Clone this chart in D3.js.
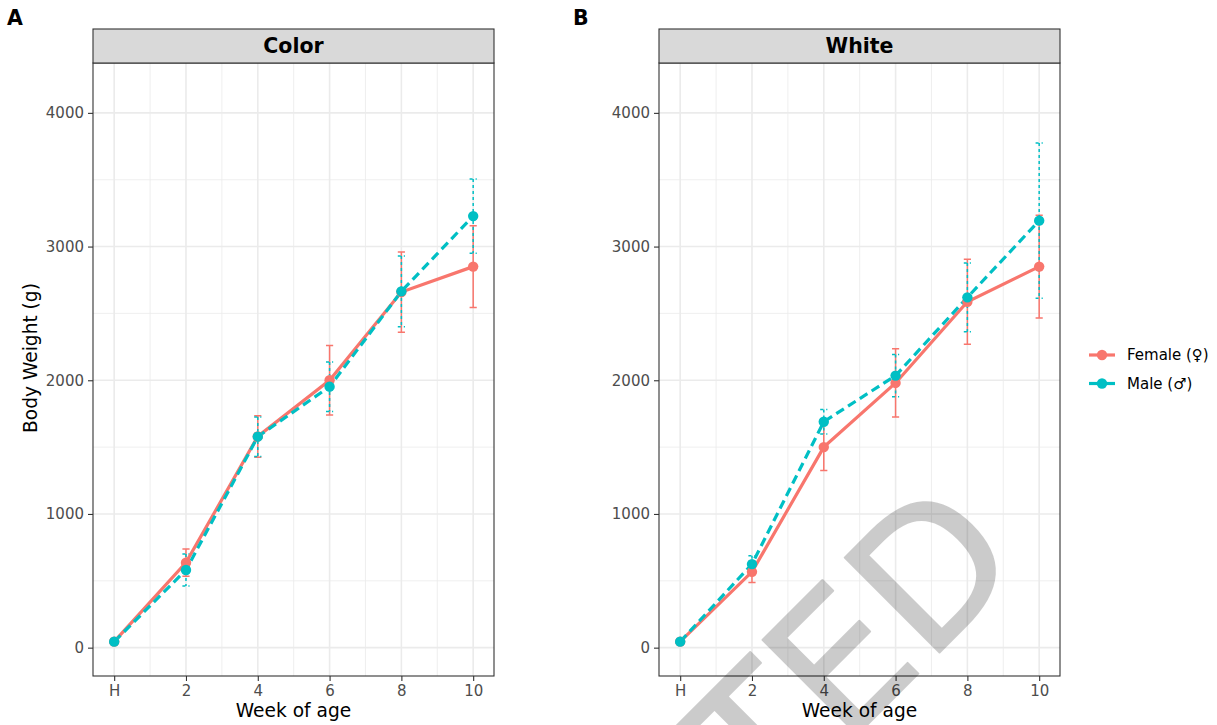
<!DOCTYPE html>
<html>

<head>
	<meta charset="utf-8">
	<title>Body Weight</title>
	<style>
		body { margin: 0; background: #fff; }
		text { font-family: "DejaVu Sans", sans-serif; }
	</style>
</head>

<body>
	<svg class="svg" width="1217" height="725"></svg>

	<script src="https://d3js.org/d3.v7.min.js"></script>
	<script>
		//data
		var weeks = [0, 2, 4, 6, 8, 10];
		var weekLabels = ["H", "2", "4", "6", "8", "10"];
		var yTicks = [0, 1000, 2000, 3000, 4000];

		var colorFemale = [45, 636, 1580, 2000, 2660, 2850];
		var colorFemaleSD = [10, 102, 155, 260, 300, 305];
		var colorMale = [45, 581, 1578, 1952, 2665, 3228];
		var colorMaleSD = [10, 120, 148, 185, 265, 278];

		var whiteFemale = [45, 567, 1500, 1980, 2587, 2850];
		var whiteFemaleSD = [10, 80, 175, 255, 318, 385];
		var whiteMale = [45, 625, 1690, 2035, 2620, 3194];
		var whiteMaleSD = [10, 62, 92, 158, 258, 580];

		var sexes = ["Female (\u2640)", "Male (\u2642)"];
		var colors = ["#F8766D", "#00BFC4"];

		var svg = d3.select("svg");

		var panels = [{
			tag: "A", title: "Color", left: 93,
			series: [colorFemale, colorMale], sd: [colorFemaleSD, colorMaleSD]
		}, {
			tag: "B", title: "White", left: 659,
			series: [whiteFemale, whiteMale], sd: [whiteFemaleSD, whiteMaleSD]
		}];

		var panelW = 401;
		var plotTop = 63, plotBottom = 676, stripTop = 29;

		var y = d3.scaleLinear()
			.domain([-212, 4373])
			.range([plotBottom, plotTop]);

		panels.forEach(function(p) {
			var x = d3.scaleLinear()
				.domain([-0.59, 10.58])
				.range([p.left, p.left + panelW]);

			var g = svg.append("g");

			//minor grid
			g.selectAll(".minorx")
				.data([1, 3, 5, 7, 9])
				.enter().append("line")
				.attr("x1", function(d) { return x(d); })
				.attr("x2", function(d) { return x(d); })
				.attr("y1", plotTop).attr("y2", plotBottom)
				.attr("stroke", "#EBEBEB").attr("stroke-width", 0.8);
			g.selectAll(".minory")
				.data([500, 1500, 2500, 3500])
				.enter().append("line")
				.attr("y1", function(d) { return y(d); })
				.attr("y2", function(d) { return y(d); })
				.attr("x1", p.left).attr("x2", p.left + panelW)
				.attr("stroke", "#EBEBEB").attr("stroke-width", 0.8);

			//major grid
			g.selectAll(".majorx")
				.data(weeks)
				.enter().append("line")
				.attr("x1", function(d) { return x(d); })
				.attr("x2", function(d) { return x(d); })
				.attr("y1", plotTop).attr("y2", plotBottom)
				.attr("stroke", "#EBEBEB").attr("stroke-width", 1.6);
			g.selectAll(".majory")
				.data(yTicks)
				.enter().append("line")
				.attr("y1", function(d) { return y(d); })
				.attr("y2", function(d) { return y(d); })
				.attr("x1", p.left).attr("x2", p.left + panelW)
				.attr("stroke", "#EBEBEB").attr("stroke-width", 1.6);

			//axes
			var xAxis = g.append("g")
				.attr("transform", "translate(0," + plotBottom + ")")
				.call(d3.axisBottom(x).tickValues(weeks)
					.tickFormat(function(d, i) { return weekLabels[i]; })
					.tickSize(5).tickPadding(4));
			var yAxis = g.append("g")
				.attr("transform", "translate(" + p.left + ",0)")
				.call(d3.axisLeft(y).tickValues(yTicks).tickFormat(d3.format("d"))
					.tickSize(5).tickPadding(4));
			[xAxis, yAxis].forEach(function(a) {
				a.select(".domain").remove();
				a.selectAll(".tick line").attr("stroke", "#333333").attr("stroke-width", 1.1);
				a.selectAll(".tick text")
					.attr("fill", "#4D4D4D")
					.style("font-size", "15px")
					.style("font-family", "DejaVu Sans");
			});

			//error bars
			p.series.forEach(function(s, k) {
				var eb = g.append("g")
					.attr("stroke", colors[k])
					.attr("stroke-width", 1.5)
					.attr("fill", "none")
					.attr("stroke-dasharray", k == 1 ? "3,3" : null);
				weeks.forEach(function(w, i) {
					var lo = s[i] - p.sd[k][i], hi = s[i] + p.sd[k][i];
					eb.append("path")
						.attr("d", "M" + x(w - 0.1) + "," + y(hi) + "H" + x(w + 0.1) +
							"M" + x(w) + "," + y(hi) + "V" + y(lo) +
							"M" + x(w - 0.1) + "," + y(lo) + "H" + x(w + 0.1));
				});
			});

			//lines
			var line = d3.line()
				.x(function(d, i) { return x(weeks[i]); })
				.y(function(d) { return y(d); });
			p.series.forEach(function(s, k) {
				g.append("path")
					.datum(s)
					.attr("d", line)
					.attr("fill", "none")
					.attr("stroke", colors[k])
					.attr("stroke-width", 3.2)
					.attr("stroke-dasharray", k == 1 ? "9,5" : null);
			});

			//points
			p.series.forEach(function(s, k) {
				g.selectAll(".pt" + k)
					.data(s)
					.enter().append("circle")
					.attr("cx", function(d, i) { return x(weeks[i]); })
					.attr("cy", function(d) { return y(d); })
					.attr("r", 5.2)
					.attr("fill", colors[k]);
			});

			//panel border
			g.append("rect")
				.attr("x", p.left).attr("y", plotTop)
				.attr("width", panelW).attr("height", plotBottom - plotTop)
				.attr("fill", "none").attr("stroke", "#333333").attr("stroke-width", 1.1);

			//strip
			g.append("rect")
				.attr("x", p.left).attr("y", stripTop)
				.attr("width", panelW).attr("height", plotTop - stripTop)
				.attr("fill", "#D9D9D9").attr("stroke", "#333333").attr("stroke-width", 1.1);
			g.append("text")
				.attr("x", p.left + panelW / 2)
				.attr("y", (stripTop + plotTop) / 2)
				.attr("dy", "0.36em")
				.attr("text-anchor", "middle")
				.style("font-size", "20.5px")
				.style("font-weight", "bold")
				.text(p.title);

			//x title
			g.append("text")
				.attr("x", p.left + panelW / 2)
				.attr("y", 717)
				.attr("text-anchor", "middle")
				.style("font-size", "18.6px")
				.text("Week of age");

			//panel tag
			svg.append("text")
				.attr("x", p.left - 86)
				.attr("y", 25)
				.style("font-size", "20.5px")
				.style("font-weight", "bold")
				.text(p.tag);
		});

		//y title
		svg.append("text")
			.attr("transform", "translate(37,358) rotate(-90)")
			.attr("text-anchor", "middle")
			.style("font-size", "18.6px")
			.text("Body Weight (g)");

		//legend
		var legend = svg.append("g");
		sexes.forEach(function(s, k) {
			var ly = 355 + k * 28.5;
			legend.append("line")
				.attr("x1", 1089).attr("x2", 1115)
				.attr("y1", ly).attr("y2", ly)
				.attr("stroke", colors[k]).attr("stroke-width", 3.2);
			legend.append("circle")
				.attr("cx", 1102).attr("cy", ly).attr("r", 5.2)
				.attr("fill", colors[k]);
			legend.append("text")
				.attr("x", 1127).attr("y", ly)
				.attr("dy", "0.36em")
				.style("font-size", "15px")
				.text(s);
		});

		//watermark (group opacity so the stroke doesn't double up)
		svg.append("g")
			.attr("opacity", 0.2)
			.append("text")
			.attr("transform", "translate(1027,565) rotate(-45)")
			.attr("text-anchor", "end")
			.attr("fill", "#000")
			.attr("stroke", "#000")
			.attr("stroke-width", 2)
			.attr("stroke-linejoin", "round")
			.style("font-size", "184px")
			.text("ACCEPTED");
	</script>
</body>

</html>
